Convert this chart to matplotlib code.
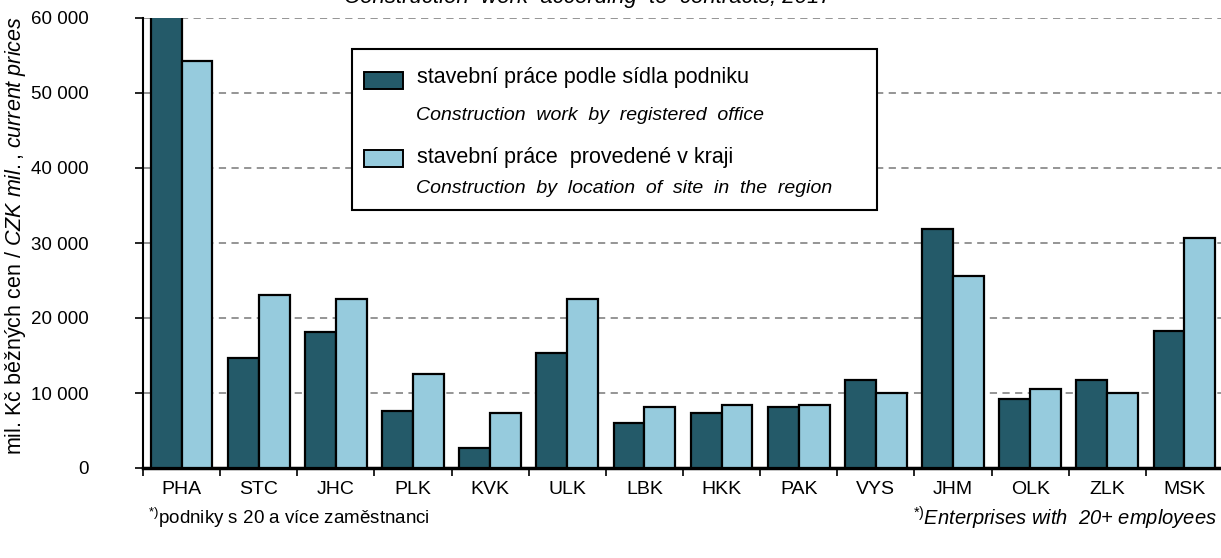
import numpy as np
import matplotlib
matplotlib.use("Agg")
import matplotlib.pyplot as plt
from matplotlib.patches import Rectangle
from matplotlib.ticker import FuncFormatter, FixedLocator

plt.rcParams['font.family'] = ['Liberation Sans', 'DejaVu Sans']
plt.rcParams['mathtext.fontset'] = 'custom'
plt.rcParams['mathtext.rm'] = 'Liberation Sans'
plt.rcParams['mathtext.it'] = 'Liberation Sans:italic'

# regions (kraje)
regions = ['PHA', 'STC', 'JHC', 'PLK', 'KVK', 'ULK', 'LBK',
           'HKK', 'PAK', 'VYS', 'JHM', 'OLK', 'ZLK', 'MSK']

# mil. Kc (PHA office value is cut off above 60 000)
by_office = [62000, 14700, 18100, 7600, 2700, 15400, 6000,
             7300, 8100, 11700, 31900, 9200, 11700, 18300]
by_site = [54200, 23100, 22600, 12600, 7300, 22600, 8200,
           8400, 8400, 10000, 25600, 10600, 10000, 30600]

series_cz = ['stavební práce podle sídla podniku', 'stavební práce  provedené v kraji']
series_en = ['Construction  work  by  registered  office',
             'Construction  by  location  of  site  in  the  region']
colors = ['#245a69', '#96cbdd']

yticks = [0, 10000, 20000, 30000, 40000, 50000, 60000]

W, H = 1221, 558
fig = plt.figure(figsize=(W / 100, H / 100), dpi=100)
ax = fig.add_axes([143 / W, (H - 468) / H, 1080 / W, 450 / H])

x = np.arange(len(regions))
bw = 0.4
ax.bar(x - bw / 2, by_office, bw, color=colors[0], edgecolor='black', linewidth=1.6, zorder=3)
ax.bar(x + bw / 2, by_site, bw, color=colors[1], edgecolor='black', linewidth=1.6, zorder=3)

ax.set_xlim(-0.5, len(regions) - 0.5)
ax.set_ylim(0, 60000)
ax.set_yticks(yticks)
ax.yaxis.set_major_formatter(FuncFormatter(lambda v, p: f'{int(v):,}'.replace(',', ' ')))
ax.set_xticks(x)
ax.set_xticklabels(regions)
ax.xaxis.set_minor_locator(FixedLocator(np.arange(len(regions) + 1) - 0.5))
ax.tick_params(axis='x', which='major', length=0, pad=9, labelsize=14)
ax.tick_params(axis='x', which='minor', length=6, width=1.2, direction='out')
ax.tick_params(axis='y', length=6, width=1.2, direction='out', pad=33, labelsize=13.5)

ax.yaxis.grid(True, color='#8c8c8c', linestyle=(0, (4, 3)), linewidth=1.3, zorder=0)
ax.spines['top'].set_visible(False)
ax.spines['right'].set_visible(False)
ax.spines['left'].set_linewidth(1.5)
ax.spines['bottom'].set_linewidth(2.5)

# title, cut by the top edge
fig.text(588 / W, 1 - 3 / H, 'Construction  work  according  to  contracts, 2017',
         ha='center', va='baseline', fontsize=16, style='italic')

# y label, mixed upright / italic
fig.text(16 / W, 1 - 236 / H,
         r'mil. Kč běžných cen / $\mathit{CZK\ mil.{,}\ current\ prices}$',
         rotation=90, ha='center', va='center', fontsize=15.5)

# legend box drawn by hand
fig.patches.append(Rectangle((352 / W, 1 - 210 / H), 525 / W, 161 / H,
                             transform=fig.transFigure, facecolor='white',
                             edgecolor='black', linewidth=1.5, zorder=5))
sw_y = [80, 158]
txt_y = [78, 158]
en_y = [116, 188]
for i in range(2):
    fig.patches.append(Rectangle((364 / W, 1 - (sw_y[i] + 8.5) / H), 39 / W, 17 / H,
                                 transform=fig.transFigure, facecolor=colors[i],
                                 edgecolor='black', linewidth=1.4, zorder=6))
    fig.text(417 / W, 1 - txt_y[i] / H, series_cz[i], ha='left', va='center',
             fontsize=15.5, zorder=7)
    fig.text(416 / W, 1 - en_y[i] / H, series_en[i], ha='left', va='center',
             fontsize=14, style='italic', zorder=7)

# footnotes
fig.text(148 / W, 1 - 518 / H, r'$^{*)}$podniky s 20 a více zaměstnanci',
         ha='left', va='center', fontsize=13.5)
fig.text(1217 / W, 1 - 518 / H, r'$^{*)}$Enterprises with  20+ employees',
         ha='right', va='center', fontsize=14.5, style='italic')

fig.savefig('out.png', dpi=100)
